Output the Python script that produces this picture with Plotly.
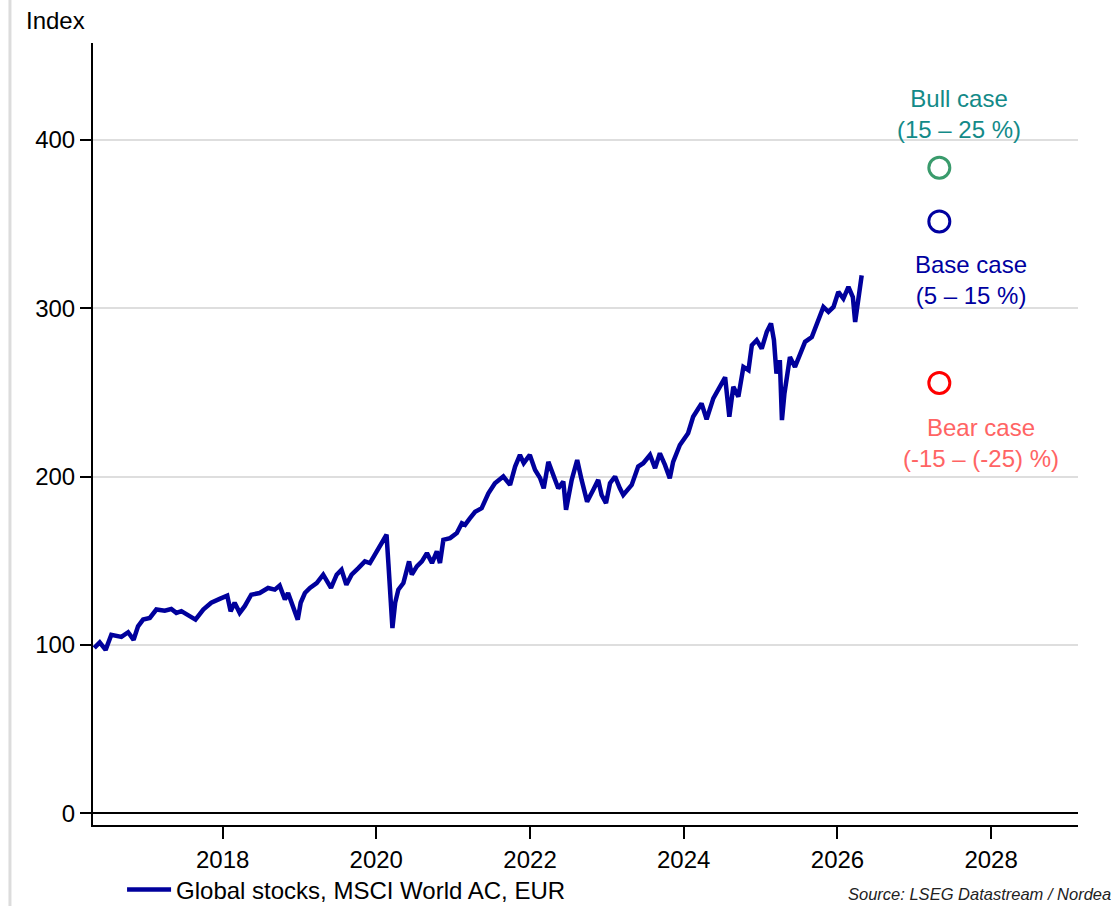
import plotly.graph_objects as go

# MSCI World AC in EUR, index level
dates = [
    "2016-05-01", "2016-05-27", "2016-06-24", "2016-07-21", "2016-09-07", "2016-10-09",
    "2016-11-04", "2016-11-25", "2016-12-19", "2017-01-20", "2017-02-20", "2017-04-01",
    "2017-05-02", "2017-05-26", "2017-06-19", "2017-07-13", "2017-08-25", "2017-10-01",
    "2017-11-08", "2017-12-18", "2018-01-23", "2018-02-08", "2018-02-27", "2018-03-23",
    "2018-04-16", "2018-05-17", "2018-06-26", "2018-08-05", "2018-09-06", "2018-09-29",
    "2018-10-24", "2018-11-08", "2018-11-23", "2018-12-24", "2019-01-07", "2019-01-27",
    "2019-02-20", "2019-03-24", "2019-04-24", "2019-05-31", "2019-06-27", "2019-07-20",
    "2019-08-12", "2019-09-06", "2019-10-08", "2019-11-08", "2019-12-02", "2019-12-26",
    "2020-01-18", "2020-02-19", "2020-02-28", "2020-03-09", "2020-03-18", "2020-03-31",
    "2020-04-15", "2020-05-09", "2020-06-05", "2020-06-18", "2020-07-12", "2020-08-05",
    "2020-08-29", "2020-09-22", "2020-10-15", "2020-10-30", "2020-11-15", "2020-12-17",
    "2021-01-18", "2021-02-11", "2021-02-26", "2021-03-20", "2021-04-15", "2021-05-16",
    "2021-06-17", "2021-07-18", "2021-08-27", "2021-09-28", "2021-10-22", "2021-11-14",
    "2021-12-02", "2021-12-31", "2022-01-25", "2022-02-18", "2022-03-07", "2022-03-29",
    "2022-04-22", "2022-05-15", "2022-06-08", "2022-06-21", "2022-07-18", "2022-08-13",
    "2022-09-03", "2022-09-29", "2022-10-28", "2022-11-21", "2022-12-07", "2022-12-28",
    "2023-01-16", "2023-02-09", "2023-03-04", "2023-03-20", "2023-04-29", "2023-05-30",
    "2023-06-23", "2023-07-25", "2023-08-18", "2023-09-10", "2023-10-04", "2023-10-27",
    "2023-11-12", "2023-12-14", "2024-01-22", "2024-02-15", "2024-03-26", "2024-04-19",
    "2024-05-21", "2024-06-22", "2024-07-16", "2024-08-05", "2024-08-24", "2024-09-17",
    "2024-10-11", "2024-11-04", "2024-11-20", "2024-12-13", "2025-01-06", "2025-01-30",
    "2025-02-19", "2025-03-05", "2025-03-17", "2025-04-02", "2025-04-12", "2025-04-24",
    "2025-05-20", "2025-06-13", "2025-07-07", "2025-07-31", "2025-09-01", "2025-09-24",
    "2025-10-26", "2025-11-19", "2025-12-13", "2026-01-05", "2026-01-29", "2026-02-22",
    "2026-03-15", "2026-03-26", "2026-04-10", "2026-04-26",
]
index_values = [
    98.2, 101.5, 97.0, 106.0, 104.7, 107.5,
    103.0, 111.0, 115.0, 116.0, 121.0, 120.3,
    121.3, 119.0, 120.0, 118.0, 115.0, 121.0,
    125.0, 127.3, 129.2, 120.0, 125.0, 119.0,
    123.0, 129.8, 130.8, 133.8, 132.8, 135.2,
    126.9, 130.8, 125.0, 115.0, 125.0, 130.8,
    133.8, 136.7, 141.7, 133.8, 141.7, 144.6,
    135.7, 141.7, 145.6, 149.6, 148.6, 153.5,
    158.4, 165.4, 148.0, 130.0, 110.0, 125.0,
    132.8, 136.7, 149.6, 141.7, 146.6, 149.6,
    154.5, 148.6, 155.5, 148.6, 162.4, 163.4,
    166.4, 172.2, 171.3, 175.0, 179.0, 181.2,
    190.0, 196.0, 200.0, 195.0, 205.9, 212.8,
    207.9, 212.8, 203.9, 199.0, 193.0, 208.7,
    199.8, 193.0, 197.0, 180.2, 198.0, 209.8,
    198.0, 185.1, 192.0, 198.0, 189.0, 184.2,
    196.0, 200.0, 193.0, 189.0, 195.0, 205.9,
    207.9, 212.8, 205.0, 213.8, 206.9, 199.0,
    208.7, 218.7, 225.7, 235.5, 243.4, 234.0,
    246.4, 253.3, 258.9, 235.5, 253.3, 247.4,
    265.1, 263.2, 278.0, 281.0, 276.0, 285.9,
    290.9, 281.0, 261.2, 269.1, 233.5, 249.4,
    270.9, 265.1, 273.0, 280.0, 282.8, 290.9,
    300.7, 297.8, 300.7, 309.6, 305.7, 312.6,
    306.6, 291.8, 306.6, 319.5,
]

# 12-month scenarios
scenario_date = "2027-04-30"
scenario_names = ["Bull case", "Base case", "Bear case"]
scenario_ranges = ["(15 – 25 %)", "(5 – 15 %)", "(-15 – (-25) %)"]
scenario_values = [383.4, 351.5, 255.6]
scenario_marker_colors = ["#3a9b6c", "#0000a0", "#ff0000"]
scenario_text_colors = ["#138a88", "#0000a0", "#ff6464"]

year_ticks = ["2018-01-01", "2020-01-01", "2022-01-01", "2024-01-01", "2026-01-01", "2028-01-01"]
year_labels = ["2018", "2020", "2022", "2024", "2026", "2028"]
y_ticks = [0, 100, 200, 300, 400]

FONT = "Liberation Sans, Arial, sans-serif"
FS = 24
LINE_BLUE = "#00009c"

fig = go.Figure()

fig.add_trace(go.Scatter(
    x=dates, y=index_values, mode="lines",
    name="Global stocks, MSCI World AC, EUR",
    line=dict(color=LINE_BLUE, width=4.5),
))

for name, val, mcol in zip(scenario_names, scenario_values, scenario_marker_colors):
    fig.add_trace(go.Scatter(
        x=[scenario_date], y=[val], mode="markers", showlegend=False, name=name,
        marker=dict(symbol="circle-open", size=21, color=mcol, line=dict(width=3, color=mcol)),
    ))

# scenario labels: text block placement (paper x centre, paper y centre)
label_pos = [(0.879, 0.9086), (0.8914, 0.697), (0.9015, 0.4885)]
for name, rng, tcol, (px, py) in zip(scenario_names, scenario_ranges, scenario_text_colors, label_pos):
    fig.add_annotation(
        x=px, y=py, xref="paper", yref="paper", xanchor="center", yanchor="middle",
        text=f"{name}<br>{rng}", showarrow=False,
        font=dict(family=FONT, size=FS, color=tcol),
    )

fig.add_annotation(
    x=-0.07, y=1.0294, xref="paper", yref="paper", xanchor="left", yanchor="middle",
    text="Index", showarrow=False, font=dict(family=FONT, size=FS, color="black"),
)
fig.add_annotation(
    x=0.7645, y=-0.1025, xref="paper", yref="paper", xanchor="left", yanchor="bottom",
    text="<i>Source: LSEG Datastream / Nordea</i>", showarrow=False,
    font=dict(family=FONT, size=16.5, color="#222222"),
)

# light page border on the left edge
fig.add_shape(type="line", xref="paper", yref="paper", x0=-0.0843, x1=-0.0843, y0=-0.11, y1=1.06,
              line=dict(color="#dcdcdc", width=3))

fig.update_layout(
    width=1117, height=906,
    margin=dict(l=93, r=39, t=43, b=81, autoexpand=False),
    paper_bgcolor="white", plot_bgcolor="white",
    font=dict(family=FONT, size=FS, color="black"),
    showlegend=True,
    legend=dict(orientation="h", x=0.0295, y=-0.083, xanchor="left", yanchor="middle",
                itemwidth=44,
                font=dict(family=FONT, size=FS, color="black"), bgcolor="rgba(0,0,0,0)"),
    xaxis=dict(
        type="date", range=["2016-04-25", "2029-02-17"],
        tickvals=year_ticks, ticktext=year_labels,
        showgrid=False, showline=True, linecolor="black", linewidth=2,
        ticks="outside", ticklen=12, tickwidth=2, tickcolor="black",
        zeroline=False,
    ),
    yaxis=dict(
        range=[-7, 457.5], tickvals=y_ticks,
        showgrid=True, gridcolor="#dedede", gridwidth=2,
        showline=True, linecolor="black", linewidth=2,
        ticks="outside", ticklen=11, tickwidth=2, tickcolor="black",
        zeroline=True, zerolinecolor="black", zerolinewidth=2,
    ),
)

fig.write_html("out.html")
